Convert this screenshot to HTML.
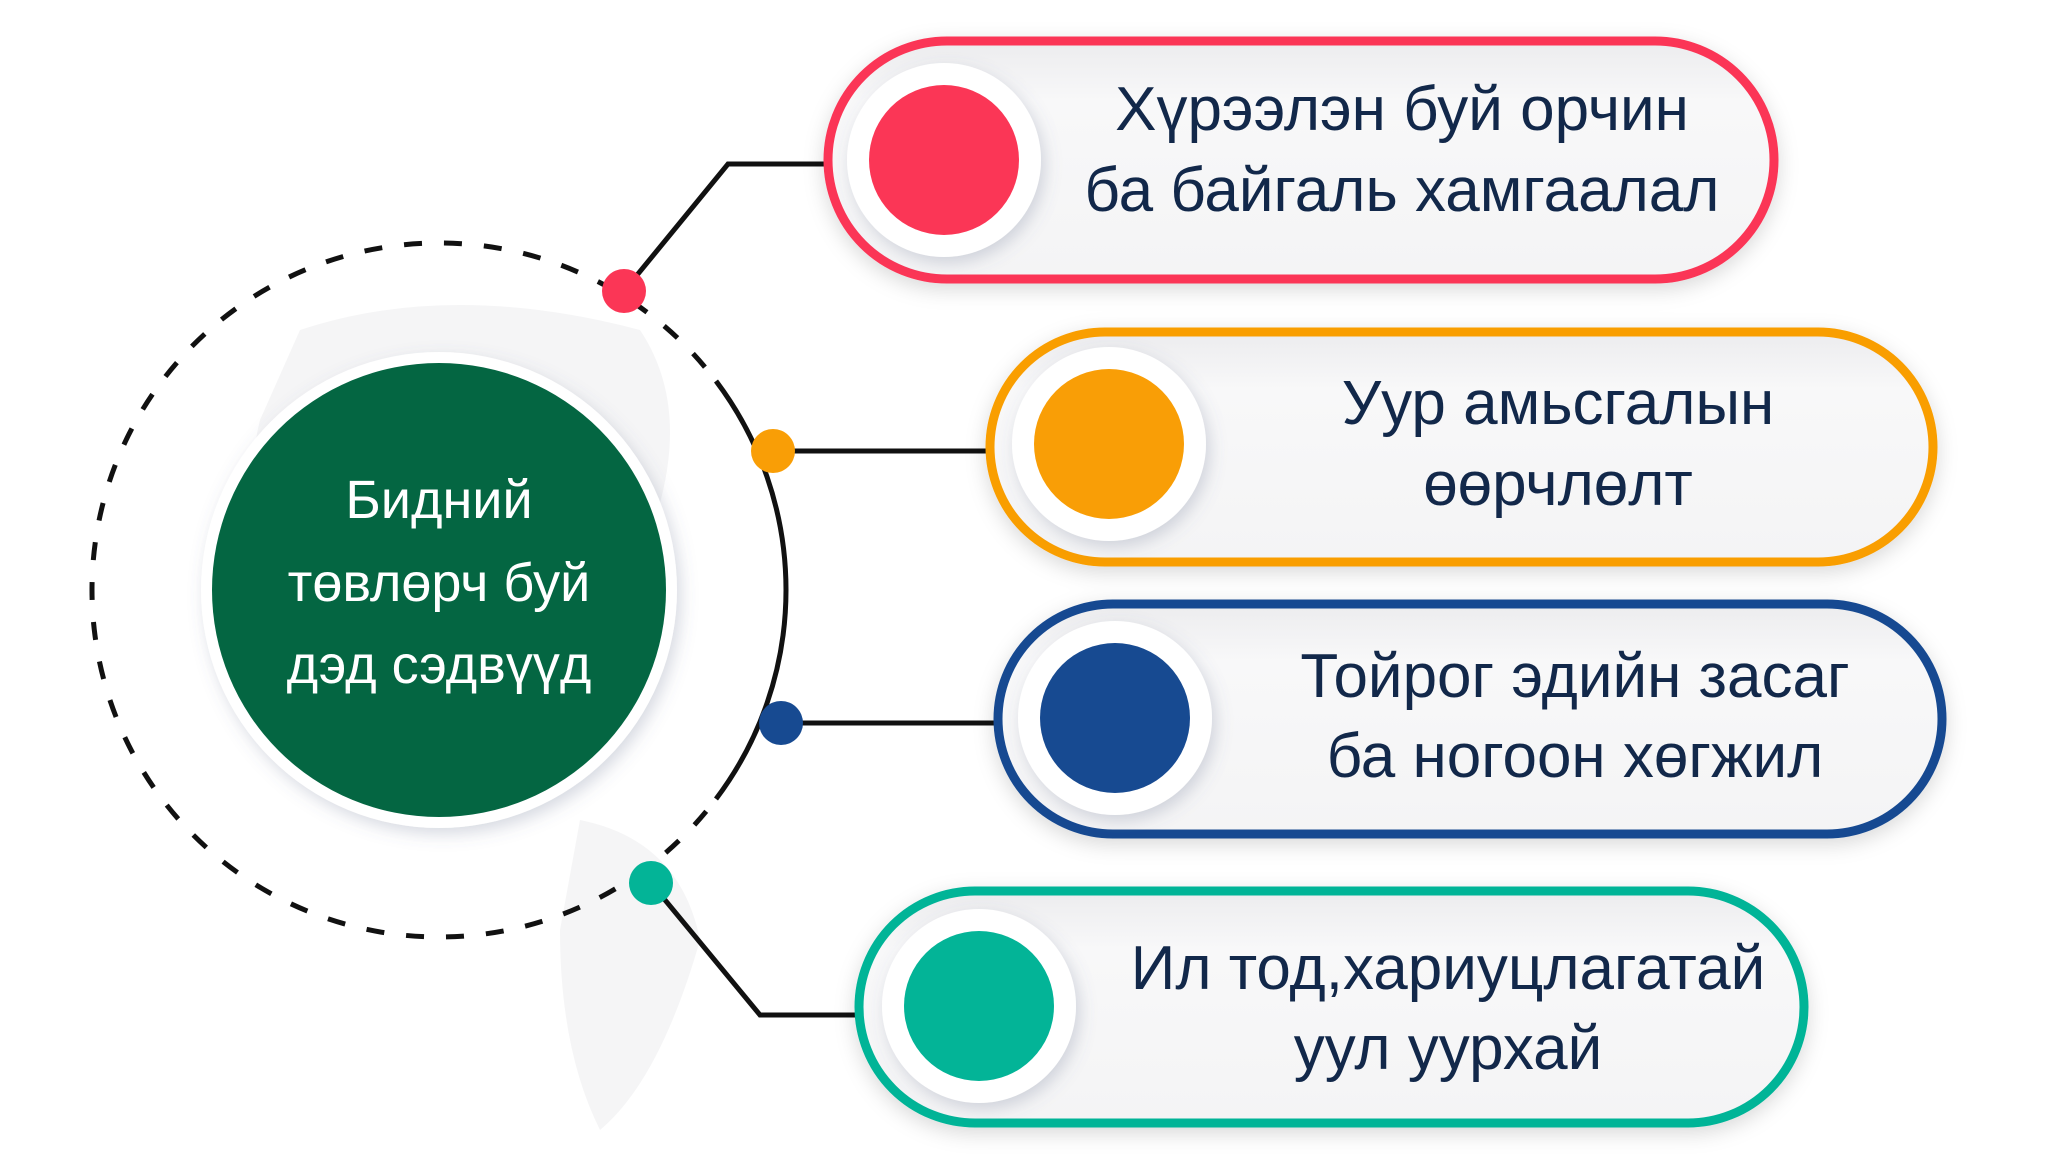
<!DOCTYPE html>
<html><head><meta charset="utf-8"><style>
html,body{margin:0;padding:0;background:#fff;}
svg{display:block;}
text{font-family:"Liberation Sans","DejaVu Sans",sans-serif;}
</style></head><body>
<svg width="2048" height="1171" viewBox="0 0 2048 1171" xmlns="http://www.w3.org/2000/svg">
<defs>
<filter id="sh" x="-20%" y="-20%" width="140%" height="140%"><feDropShadow dx="0" dy="6" stdDeviation="10" flood-color="#000" flood-opacity="0.15"/></filter>
<filter id="sh2" x="-30%" y="-30%" width="160%" height="160%"><feDropShadow dx="4" dy="6" stdDeviation="8" flood-color="#5a6b8a" flood-opacity="0.25"/></filter>
<linearGradient id="pg" x1="0" y1="0" x2="0" y2="1"><stop offset="0" stop-color="#ececee"/><stop offset="0.25" stop-color="#f8f8f9"/><stop offset="1" stop-color="#f4f4f5"/></linearGradient>
</defs>
<!-- faint map blobs -->
<g fill="#f5f5f6">
<path d="M300 330 Q450 280 640 330 Q700 420 640 560 Q600 640 520 700 Q420 720 330 640 Q230 540 260 420 Z"/>
<path d="M580 820 Q680 840 700 940 Q660 1080 600 1130 Q560 1050 560 930 Z"/>
</g>
<!-- dashed circle -->
<circle cx="439" cy="590" r="347" fill="none" stroke="#111" stroke-width="5" stroke-dasharray="18 22"/>
<path d="M 716 381 A 347 347 0 0 1 716 799" fill="none" stroke="#fff" stroke-width="12"/>
<path d="M 716 381 A 347 347 0 0 1 716 799" fill="none" stroke="#111" stroke-width="5"/>
<!-- connectors -->
<g stroke="#111" stroke-width="5" fill="none">
<polyline points="624,291 728,164 830,164"/>
<line x1="773" y1="451" x2="990" y2="451"/>
<line x1="781" y1="723" x2="998" y2="723"/>
<polyline points="651,883 760,1015 860,1015"/>
</g>
<circle cx="624" cy="291" r="22" fill="#fb3656"/>
<circle cx="773" cy="451" r="22" fill="#f99e06"/>
<circle cx="781" cy="723" r="22" fill="#174a91"/>
<circle cx="651" cy="883" r="22" fill="#03b497"/>
<!-- center -->
<circle cx="439" cy="590" r="238" fill="#fff" filter="url(#sh2)"/>
<circle cx="439" cy="590" r="227" fill="#046642"/>
<g fill="#fff" font-size="54" text-anchor="middle">
<text x="439" y="518">Бидний</text>
<text x="439" y="601">төвлөрч буй</text>
<text x="439" y="683">дэд сэдвүүд</text>
</g>
<!-- pills -->
<g filter="url(#sh)">
<rect x="828" y="41" width="946" height="238" rx="119" fill="url(#pg)" stroke="#fb3656" stroke-width="9"/>
<rect x="990" y="332" width="943" height="230" rx="115" fill="url(#pg)" stroke="#f99e06" stroke-width="9"/>
<rect x="998" y="604" width="944" height="230" rx="115" fill="url(#pg)" stroke="#174a91" stroke-width="9"/>
<rect x="859" y="891" width="945" height="232" rx="116" fill="url(#pg)" stroke="#03b497" stroke-width="9"/>
</g>
<g filter="url(#sh2)" fill="#fff">
<circle cx="944" cy="160" r="97"/>
<circle cx="1109" cy="444" r="97"/>
<circle cx="1115" cy="718" r="97"/>
<circle cx="979" cy="1006" r="97"/>
</g>
<circle cx="944" cy="160" r="75" fill="#fb3656"/>
<circle cx="1109" cy="444" r="75" fill="#f99e06"/>
<circle cx="1115" cy="718" r="75" fill="#174a91"/>
<circle cx="979" cy="1006" r="75" fill="#03b497"/>
<g fill="#12284a" font-size="62" text-anchor="middle">
<text x="1402" y="130">Хүрээлэн буй орчин</text>
<text x="1402" y="211">ба байгаль хамгаалал</text>
<text x="1558" y="424">Уур амьсгалын</text>
<text x="1558" y="505">өөрчлөлт</text>
<text x="1575" y="697">Тойрог эдийн засаг</text>
<text x="1575" y="777">ба ногоон хөгжил</text>
<text x="1448" y="989">Ил тод,хариуцлагатай</text>
<text x="1448" y="1069">уул уурхай</text>
</g>
</svg>
</body></html>
